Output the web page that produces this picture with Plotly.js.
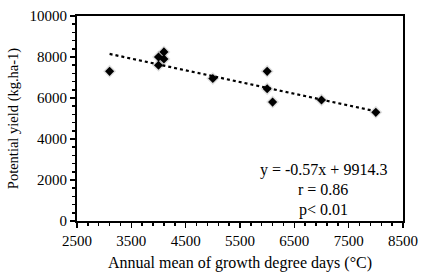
<!DOCTYPE html>
<html>
<head>
<meta charset="utf-8">
<script src="https://cdn.plot.ly/plotly-3.0.1.min.js"></script>
<style>html,body{margin:0;padding:0;background:#fff;}#chart{width:423px;height:276px;}</style>
</head>
<body>
<div id="chart"></div>
<script>
var gddX = [3100, 4000, 4000, 4100, 4100, 5000, 6000, 6000, 6100, 7000, 8000];
var yieldY = [7300, 7600, 8000, 7900, 8250, 6950, 7300, 6450, 5800, 5900, 5300];
// Trend line endpoints
var trendX = [3100, 8000];
var trendY = [8150, 5350];
// Axis ticks
var xTicks = [2500, 3500, 4500, 5500, 6500, 7500, 8500];
var yTicks = [0, 2000, 4000, 6000, 8000, 10000];
var statLines = ["y = -0.57x + 9914.3", "r = 0.86", "p< 0.01"];

var serif = "Liberation Serif, Times New Roman, serif";

var traces = [
  {x: gddX, y: yieldY, type: 'scatter', mode: 'markers', hoverinfo: 'skip',
   marker: {symbol: 'diamond', size: 10, color: 'rgba(0,0,0,0.13)', line: {width: 0}}},
  {x: trendX, y: trendY, type: 'scatter', mode: 'lines',
   line: {color: '#000', width: 2.2, dash: 'dot'}},
  {x: gddX, y: yieldY, type: 'scatter', mode: 'markers',
   marker: {symbol: 'diamond', size: 7, color: '#000', line: {width: 0}}}
];

var layout = {
  width: 423, height: 276,
  margin: {l: 77, r: 20, t: 16, b: 55},
  showlegend: false,
  paper_bgcolor: '#fff', plot_bgcolor: '#fff',
  font: {family: serif, size: 15, color: '#000'},
  xaxis: {
    range: [2500, 8500], tickvals: xTicks, ticktext: xTicks.map(String),
    showgrid: false, zeroline: false,
    showline: true, linecolor: '#000', linewidth: 2, mirror: true,
    ticks: 'outside', ticklen: 5, tickwidth: 1.5, tickcolor: '#000',
    minor: {dtick: 200, tick0: 2500, ticks: 'outside', ticklen: 3, tickwidth: 1.5, tickcolor: '#000', showgrid: false},
    tickfont: {family: serif, size: 15},
    title: {text: 'Annual mean of growth degree days (°C)', font: {family: serif, size: 16}, standoff: 9}
  },
  yaxis: {
    range: [0, 10000], tickvals: yTicks, ticktext: yTicks.map(String),
    showgrid: false, zeroline: false,
    showline: true, linecolor: '#000', linewidth: 2, mirror: true,
    ticks: 'outside', ticklen: 5, tickwidth: 1.5, tickcolor: '#000',
    minor: {dtick: 400, tick0: 0, ticks: 'outside', ticklen: 3, tickwidth: 1.5, tickcolor: '#000', showgrid: false},
    tickfont: {family: serif, size: 15},
    title: {text: 'Potential yield (kg.ha-1)', font: {family: serif, size: 14.5}, standoff: 7}
  },
  annotations: [
    {xref: 'paper', yref: 'paper', x: 0.755, y: 0.249, text: statLines[0], showarrow: false, xanchor: 'center', yanchor: 'middle', font: {family: serif, size: 16}},
    {xref: 'paper', yref: 'paper', x: 0.755, y: 0.156, text: statLines[1], showarrow: false, xanchor: 'center', yanchor: 'middle', font: {family: serif, size: 16}},
    {xref: 'paper', yref: 'paper', x: 0.755, y: 0.054, text: statLines[2], showarrow: false, xanchor: 'center', yanchor: 'middle', font: {family: serif, size: 16}}
  ]
};

Plotly.newPlot('chart', traces, layout, {staticPlot: true, displayModeBar: false});
</script>
</body>
</html>
